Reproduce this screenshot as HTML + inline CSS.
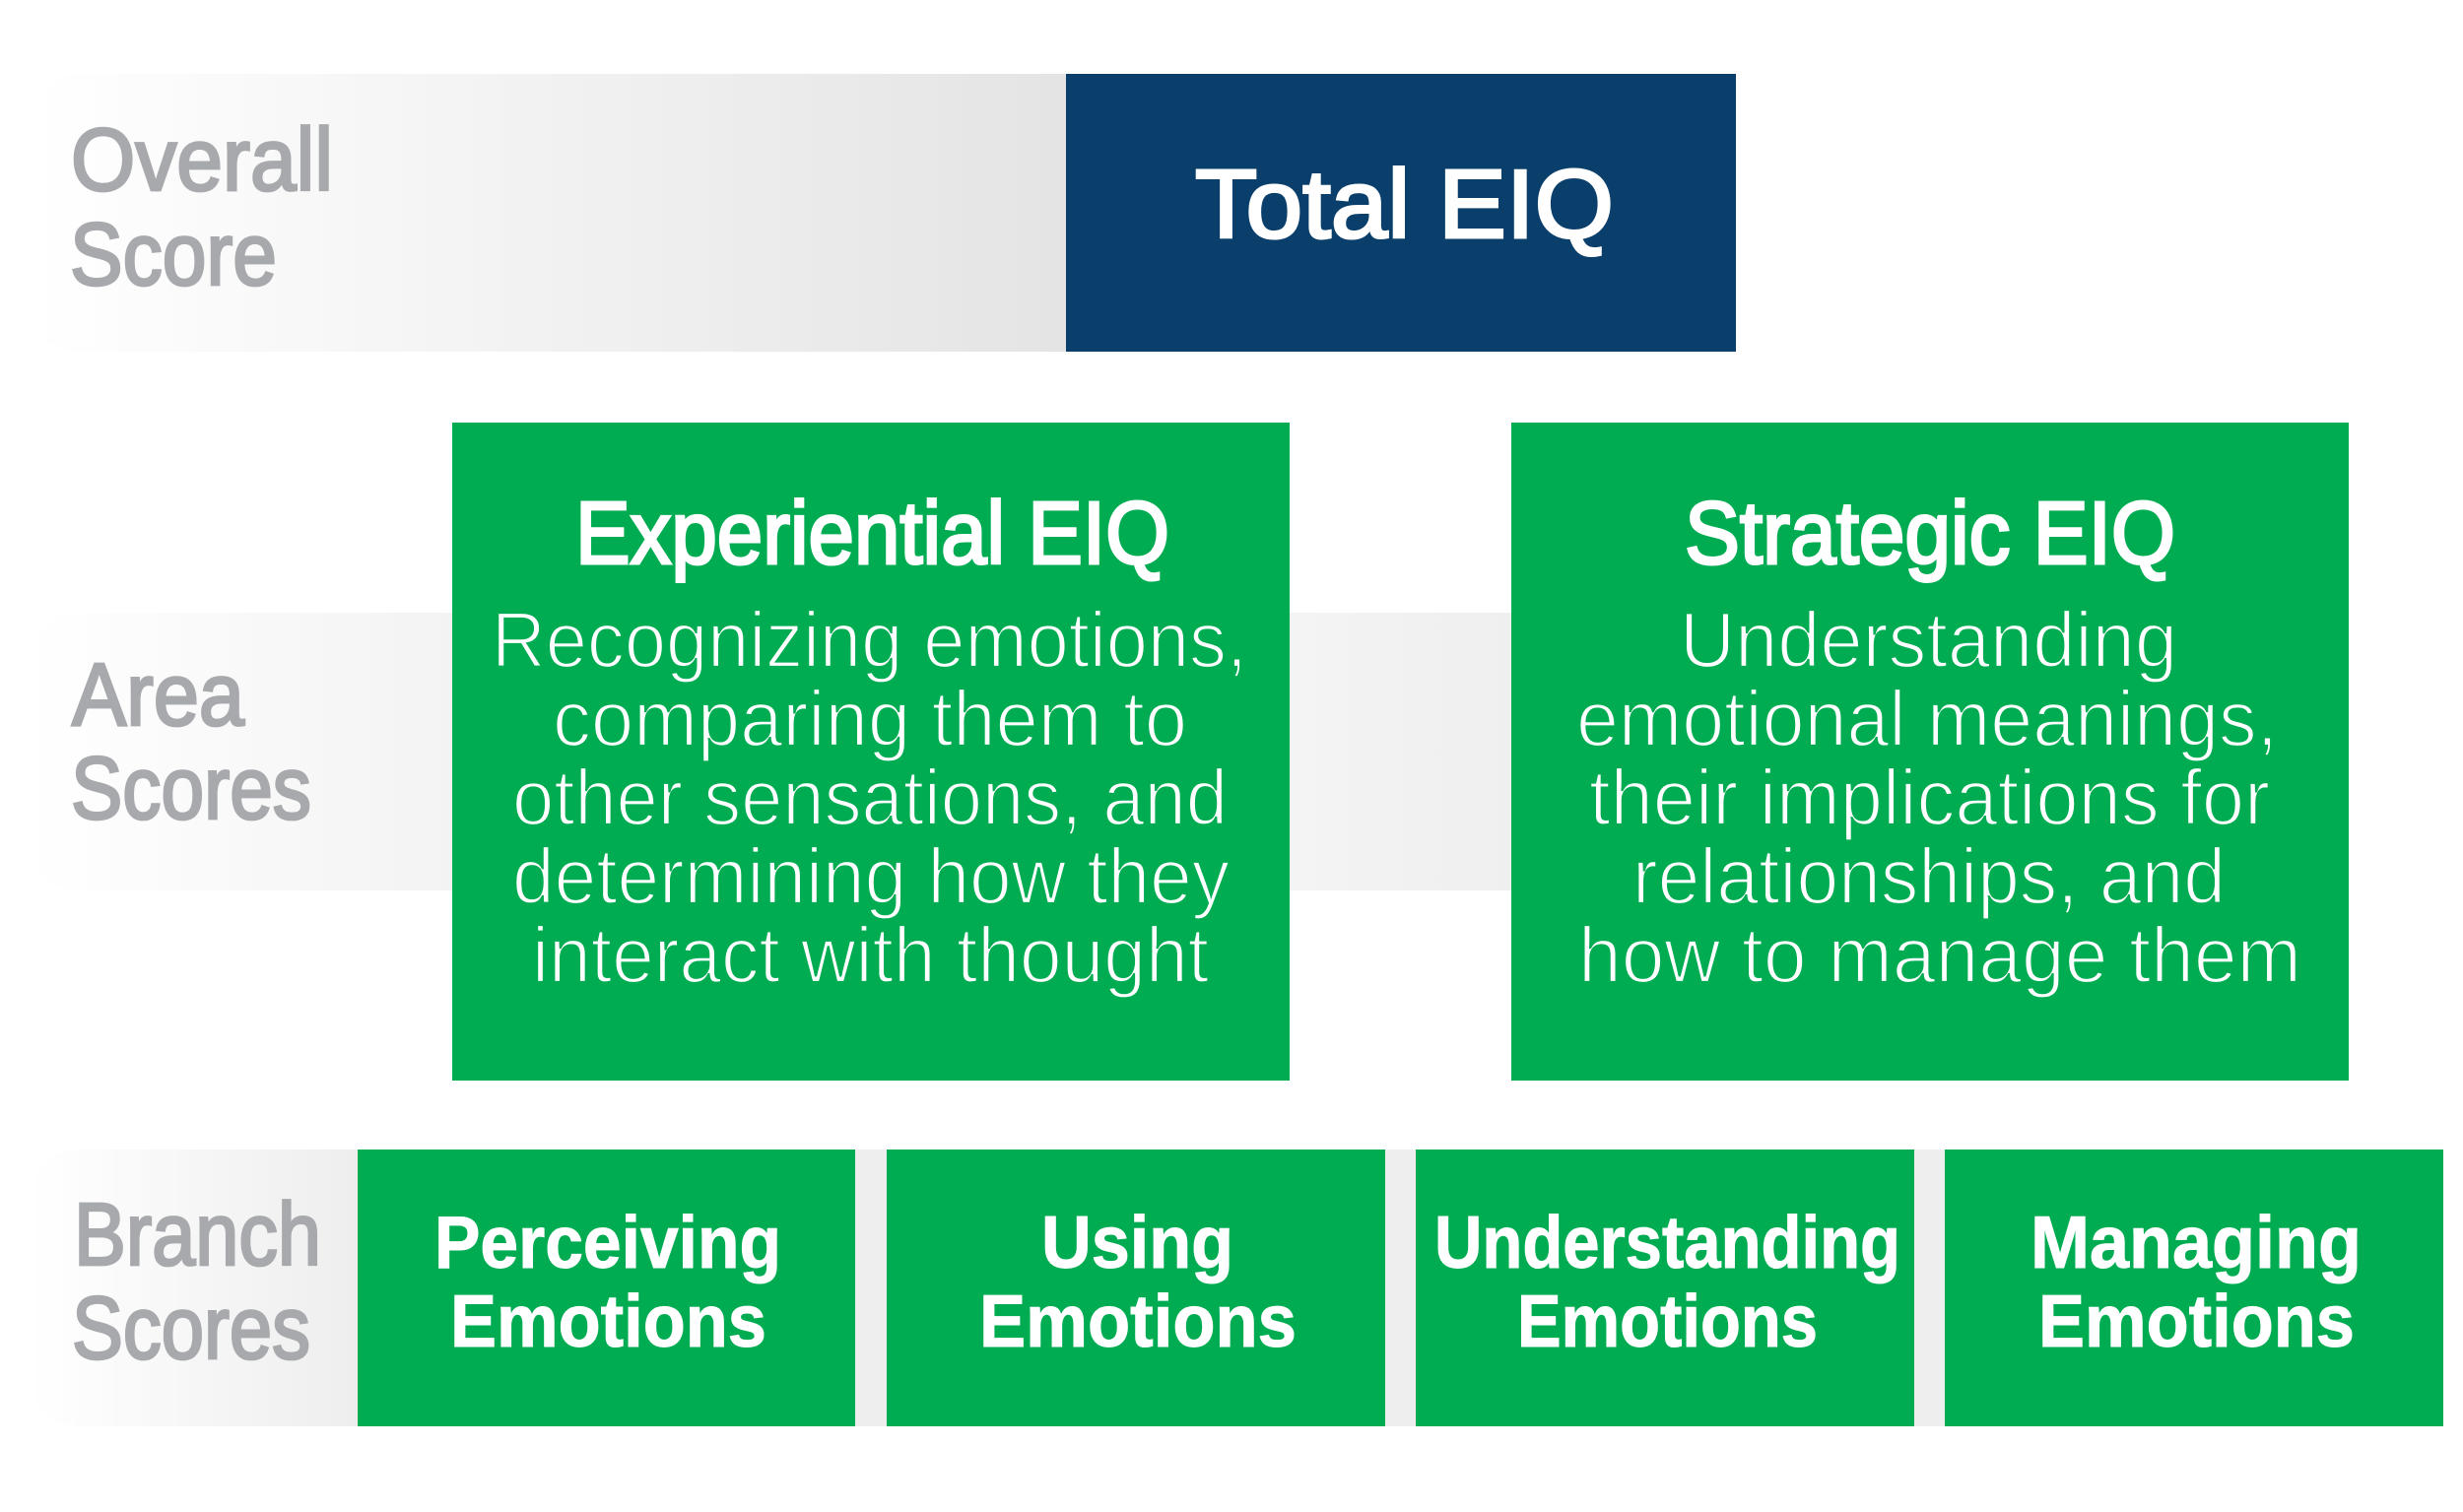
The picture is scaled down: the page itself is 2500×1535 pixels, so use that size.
<!DOCTYPE html>
<html><head><meta charset="utf-8"><title>EIQ Scores</title>
<style>
html,body{margin:0;padding:0;background:#fff;width:2500px;height:1535px;overflow:hidden}
svg{display:block}
text{font-family:"Liberation Sans",sans-serif}
.g{fill:#a7a9ac;stroke:#a7a9ac;stroke-width:2.8px;font-size:90px}
.t{fill:#fff;stroke:#fff;stroke-width:3px;font-size:98px}
.h{fill:#fff;stroke:#fff;stroke-width:3px;font-size:90px}
.b{fill:#fff;stroke:#00ac52;stroke-width:2.2px;font-size:80px}
.s{fill:#fff;stroke:#fff;stroke-width:1px;font-size:75px;font-weight:bold}
</style></head><body>
<svg width="2500" height="1535" viewBox="0 0 2500 1535" xmlns="http://www.w3.org/2000/svg">
<defs>
<linearGradient id="g1" gradientUnits="userSpaceOnUse" x1="30" y1="0" x2="1082" y2="0"><stop offset="0" stop-color="#fff"/><stop offset="1" stop-color="#e4e4e4"/></linearGradient>
<linearGradient id="g2" gradientUnits="userSpaceOnUse" x1="30" y1="0" x2="1534" y2="0"><stop offset="0" stop-color="#fff"/><stop offset="0.285" stop-color="#f3f3f3"/><stop offset="0.85" stop-color="#f4f4f4"/><stop offset="1" stop-color="#efefef"/></linearGradient>
<linearGradient id="g3" gradientUnits="userSpaceOnUse" x1="30" y1="0" x2="2480" y2="0"><stop offset="0" stop-color="#fff"/><stop offset="0.136" stop-color="#eeeeee"/><stop offset="1" stop-color="#eeeeee"/></linearGradient>
</defs>
<rect x="30" y="75" width="1100" height="282" rx="50" fill="url(#g1)"/>
<rect x="30" y="622" width="1600" height="282" rx="50" fill="url(#g2)"/>
<rect x="30" y="1167" width="2440" height="281" rx="50" fill="url(#g3)"/>
<rect x="1082" y="75" width="680" height="282" fill="#0b3f6b"/>
<rect x="459" y="429" width="850" height="668" fill="#00ac52"/>
<rect x="1534" y="429" width="850" height="668" fill="#00ac52"/>
<rect x="363" y="1167" width="505" height="281" fill="#00ac52"/>
<rect x="900" y="1167" width="506" height="281" fill="#00ac52"/>
<rect x="1437" y="1167" width="506" height="281" fill="#00ac52"/>
<rect x="1974" y="1167" width="506" height="281" fill="#00ac52"/>

<text class="g" lengthAdjust="spacingAndGlyphs" x="72" y="193" textLength="266">Overall</text>
<text class="g" lengthAdjust="spacingAndGlyphs" x="71" y="289" textLength="210">Score</text>
<text class="g" lengthAdjust="spacingAndGlyphs" x="73" y="736" textLength="175">Area</text>
<text class="g" lengthAdjust="spacingAndGlyphs" x="72" y="831" textLength="244">Scores</text>
<text class="g" lengthAdjust="spacingAndGlyphs" x="75" y="1284" textLength="251">Branch</text>
<text class="g" lengthAdjust="spacingAndGlyphs" x="73" y="1379" textLength="242">Scores</text>

<text class="t" lengthAdjust="spacingAndGlyphs" x="1213" y="241" textLength="425">Total EIQ</text>

<text class="h" lengthAdjust="spacingAndGlyphs" x="584" y="572" textLength="603">Experiential EIQ</text>
<text class="h" lengthAdjust="spacingAndGlyphs" x="1710" y="572" textLength="498">Strategic EIQ</text>

<text class="b" lengthAdjust="spacingAndGlyphs" x="499" y="677" textLength="767">Recognizing emotions,</text>
<text class="b" lengthAdjust="spacingAndGlyphs" x="561" y="757" textLength="644">comparing them to</text>
<text class="b" lengthAdjust="spacingAndGlyphs" x="520" y="837" textLength="726">other sensations, and</text>
<text class="b" lengthAdjust="spacingAndGlyphs" x="520" y="917" textLength="728">determining how they</text>
<text class="b" lengthAdjust="spacingAndGlyphs" x="540" y="997" textLength="687">interact with thought</text>

<text class="b" lengthAdjust="spacingAndGlyphs" x="1705" y="677" textLength="505">Understanding</text>
<text class="b" lengthAdjust="spacingAndGlyphs" x="1600" y="757" textLength="712">emotional meanings,</text>
<text class="b" lengthAdjust="spacingAndGlyphs" x="1613" y="837" textLength="691">their implications for</text>
<text class="b" lengthAdjust="spacingAndGlyphs" x="1657" y="917" textLength="602">relationships, and</text>
<text class="b" lengthAdjust="spacingAndGlyphs" x="1602" y="997" textLength="734">how to manage them</text>

<text class="s" lengthAdjust="spacingAndGlyphs" x="441" y="1287" textLength="352">Perceiving</text>
<text class="s" lengthAdjust="spacingAndGlyphs" x="457" y="1367" textLength="321">Emotions</text>
<text class="s" lengthAdjust="spacingAndGlyphs" x="1057" y="1287" textLength="195">Using</text>
<text class="s" lengthAdjust="spacingAndGlyphs" x="994" y="1367" textLength="322">Emotions</text>
<text class="s" lengthAdjust="spacingAndGlyphs" x="1456" y="1287" textLength="473">Understanding</text>
<text class="s" lengthAdjust="spacingAndGlyphs" x="1540" y="1367" textLength="305">Emotions</text>
<text class="s" lengthAdjust="spacingAndGlyphs" x="2061" y="1287" textLength="336">Managing</text>
<text class="s" lengthAdjust="spacingAndGlyphs" x="2069" y="1367" textLength="321">Emotions</text>
</svg>
</body></html>
